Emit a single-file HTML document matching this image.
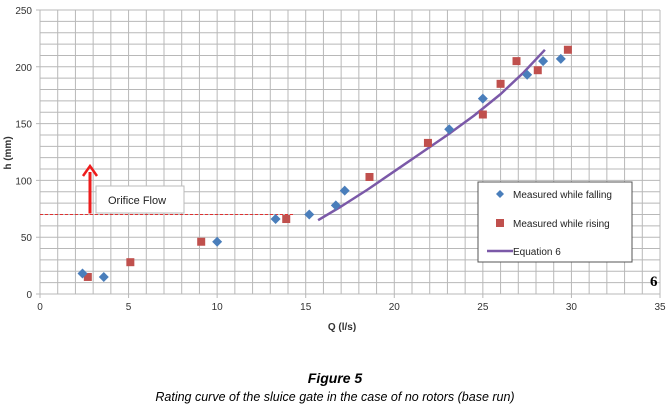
<!DOCTYPE html>
<html><head><meta charset="utf-8"><style>
html,body{margin:0;padding:0;background:#fff;width:671px;height:415px;overflow:hidden}
svg{display:block}
text{font-family:"Liberation Sans",sans-serif}
</style></head><body>
<svg id="chart" width="671" height="415" xmlns="http://www.w3.org/2000/svg">
<g id="grid"></g>
<g id="axes"></g>
<g id="ref"></g>
<g id="series"></g>
<g id="legend"></g>
<text x="650" y="286" font-family="Liberation Serif,serif" font-weight="bold" font-size="15" style="font-family:'Liberation Serif',serif">6</text>
<text x="335" y="383" text-anchor="middle" font-size="14" font-weight="bold" font-style="italic">Figure 5</text>
<text x="335" y="401" text-anchor="middle" font-size="12.5" font-style="italic">Rating curve of the sluice gate in the case of no rotors (base run)</text>
</svg>
<script>
const xTicks=[0,5,10,15,20,25,30,35];
const yTicks=[0,50,100,150,200,250];
const fallingQ=[2.4,3.6,10,13.3,15.2,16.7,17.2,23.1,25,27.5,28.4,29.4];
const fallingH=[18,15,46,66,70,78,91,145,172,193,205,207];
const risingQ=[2.7,5.1,9.1,13.9,18.6,21.9,25,26,26.9,28.1,29.8];
const risingH=[15,28,46,66,103,133,158,185,205,197,215];
const eqQ=[15.7,17,18.5,20,21.5,23,24.5,26,27.3,28.5];
const eqH=[65,77,92,108,124,140,157,176,195,215];
const orificeH=70;
const X0=40,X1=660,Y0=294,Y1=10;
const sx=v=>X0+(v-0)/35*(X1-X0);
const sy=v=>Y0-(v-0)/250*(Y0-Y1);
const NS='http://www.w3.org/2000/svg';
function mk(tag,parent,attrs){const e=document.createElementNS(NS,tag);for(const k in attrs)e.setAttribute(k,attrs[k]);document.getElementById(parent).appendChild(e);return e;}
for(let q=0;q<=35;q++){const l=mk('line','grid',{x1:sx(q),x2:sx(q),y1:Y1,y2:Y0+(q%5==0?4:0),stroke:'#b8b8b8','stroke-width':1});

}
for(let h=0;h<=250;h+=10){const l=mk('line','grid',{x1:X0-(h%50==0?4:0),x2:X1,y1:sy(h),y2:sy(h),stroke:'#b8b8b8','stroke-width':1});

}
xTicks.forEach(t=>{const e=mk('text','axes',{x:sx(t),y:Y0+16,'text-anchor':'middle','font-size':10,fill:'#333'});e.textContent=t;

});
yTicks.forEach(t=>{const e=mk('text','axes',{x:X0-8,y:sy(t)+4,'text-anchor':'end','font-size':10,fill:'#333'});e.textContent=t;

});
let e=mk('text','axes',{x:342,y:330,'text-anchor':'middle','font-size':10,'font-weight':'bold',fill:'#333'});e.textContent='Q (l/s)';


e=mk('text','axes',{x:0,y:0,transform:'translate(11,153) rotate(-90)','text-anchor':'middle','font-size':10,'font-weight':'bold',fill:'#333'});e.textContent='h (mm)';


e=mk('line','ref',{x1:X0,x2:293,y1:sy(orificeH),y2:sy(orificeH),stroke:'#e03030','stroke-width':1,'stroke-dasharray':'3,2'});


e=mk('line','ref',{x1:90,x2:90,y1:sy(orificeH)-1,y2:172,stroke:'#ee1c1c','stroke-width':3});


e=mk('path','ref',{d:'M83,176 L90,166 L97,176',fill:'none',stroke:'#ee1c1c','stroke-width':2.5});


e=mk('rect','ref',{x:96,y:186,width:88,height:27,fill:'#fff',stroke:'#bbb'});


e=mk('text','ref',{x:108,y:204,'font-size':11,fill:'#222'});e.textContent='Orifice Flow';


let d='';eqQ.forEach((q,i)=>{d+=(i?'L':'M')+sx(q).toFixed(1)+','+sy(eqH[i]).toFixed(1);});
e=mk('path','series',{d:d,fill:'none',stroke:'#7b59a8','stroke-width':2.5,'stroke-linejoin':'round'});


risingQ.forEach((q,i)=>{const r=mk('rect','series',{x:sx(q)-4,y:sy(risingH[i])-4,width:8,height:8,fill:'#c0504d'});

});
fallingQ.forEach((q,i)=>{const cx=sx(q),cy=sy(fallingH[i]);const p=mk('path','series',{d:`M${cx},${cy-5} L${cx+5},${cy} L${cx},${cy+5} L${cx-5},${cy}Z`,fill:'#4a7ebb'});

});
e=mk('rect','legend',{x:478,y:182,width:154,height:80,fill:'#fff',stroke:'#555'});


e=mk('path','legend',{d:'M500,190 L504,194 L500,198 L496,194Z',fill:'#4a7ebb'});


e=mk('text','legend',{x:513,y:198,'font-size':10,fill:'#222'});e.textContent='Measured while falling';


e=mk('rect','legend',{x:496,y:219,width:8,height:8,fill:'#c0504d'});


e=mk('text','legend',{x:513,y:227,'font-size':10,fill:'#222'});e.textContent='Measured while rising';


e=mk('line','legend',{x1:487,x2:513,y1:251,y2:251,stroke:'#7b59a8','stroke-width':2.5});


e=mk('text','legend',{x:513,y:255,'font-size':10,fill:'#222'});e.textContent='Equation 6';


</script>
</body></html>
